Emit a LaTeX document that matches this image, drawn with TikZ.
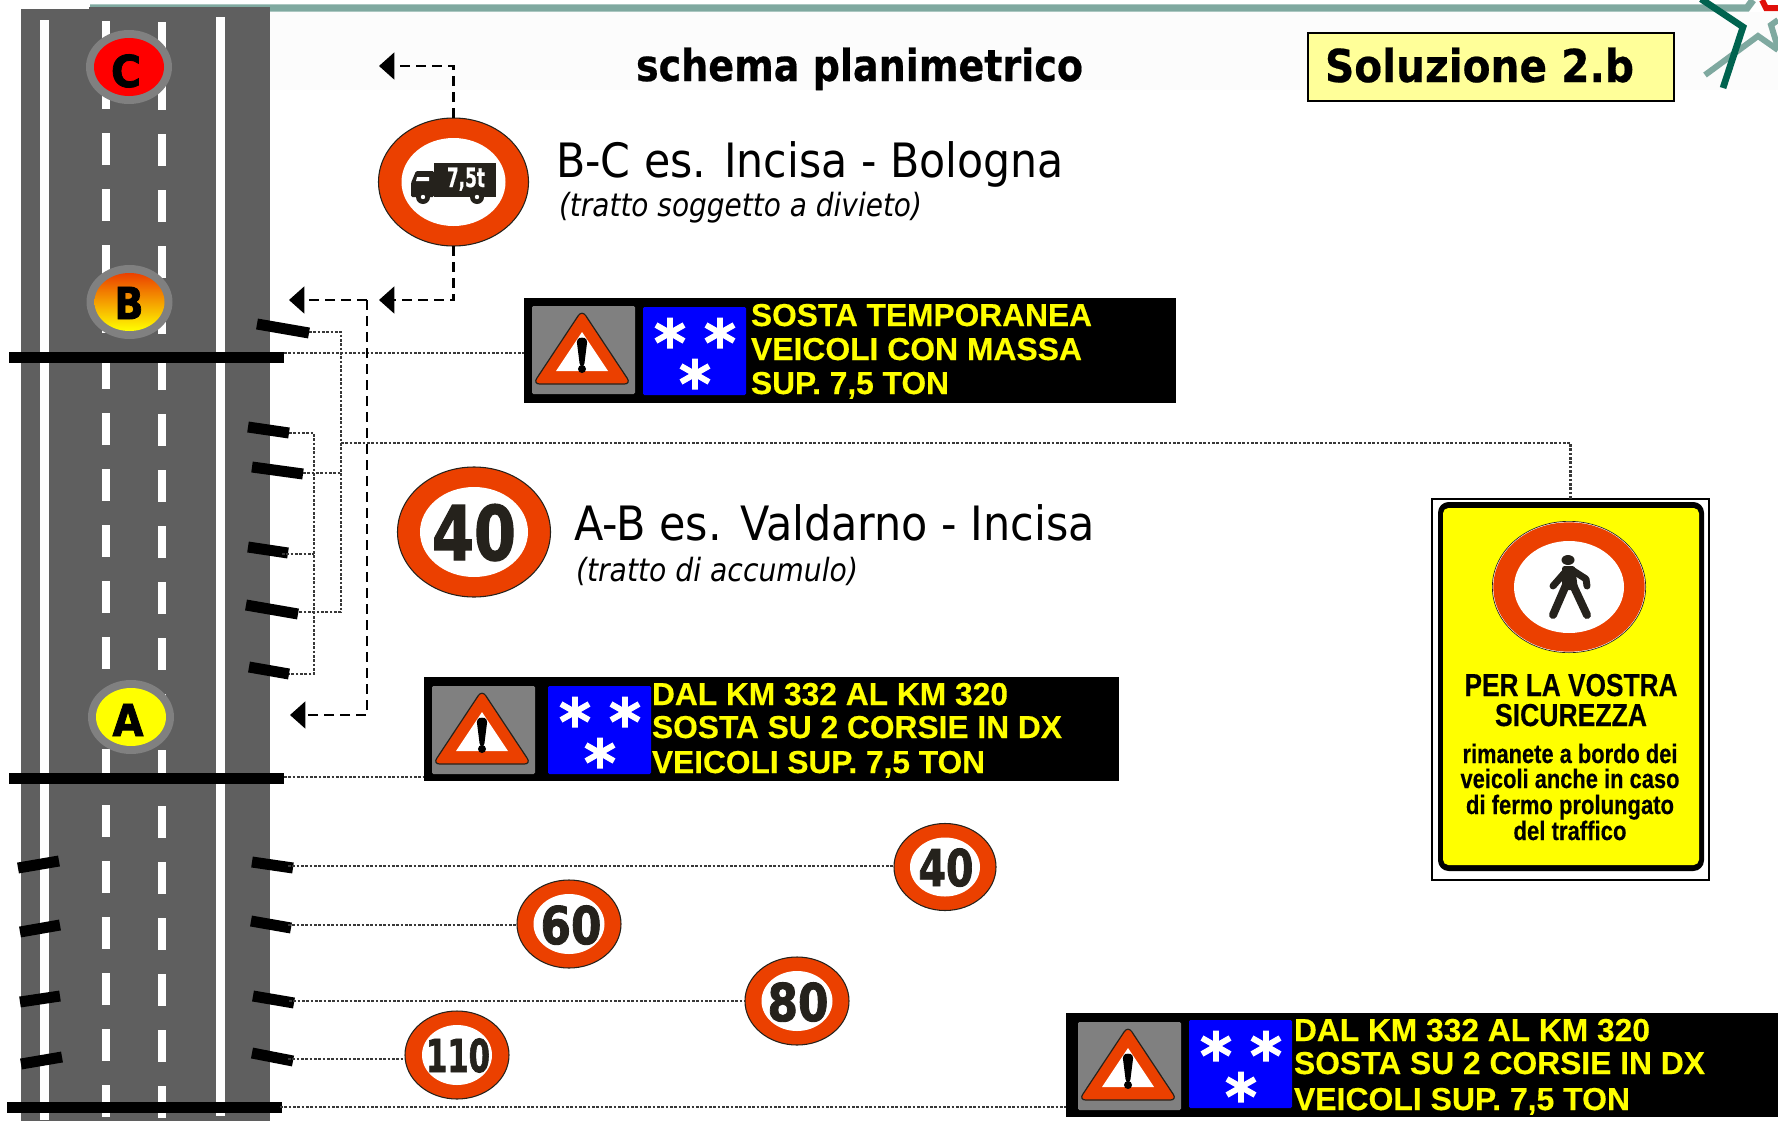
\documentclass[tikz,border=0pt]{standalone}
\usepackage{graphicx}
\usepackage{fontspec}
\setmainfont{DejaVu Sans}[BoldFeatures={FakeBold=0.5}]
\newfontfamily\signfont{Liberation Sans}[BoldFeatures={FakeBold=0.4}]
\newfontfamily\heavyfont{DejaVu Sans}[BoldFeatures={FakeBold=1.8}]
\usetikzlibrary{shapes.geometric,arrows.meta,calc}
\definecolor{roadgrey}{HTML}{5F5F5F}
\definecolor{ringgrey}{HTML}{808080}
\definecolor{signred}{HTML}{EB4000}
\definecolor{inkdark}{HTML}{25221C}
\definecolor{teal}{HTML}{7FA9A0}
\definecolor{darkgreen}{HTML}{00634F}
\definecolor{starred}{HTML}{E0100A}
\definecolor{dotgrey}{HTML}{383838}
\definecolor{solyellow}{HTML}{FFFF99}
\definecolor{pureyellow}{HTML}{FFFF00}
\definecolor{pureblue}{HTML}{0000FF}
\definecolor{purered}{HTML}{FF0000}
\newsavebox\fitbox
\newcommand{\fitt}[2]{\sbox\fitbox{#2}\pgfmathsetmacro\fitr{#1*0.75/(\wd\fitbox)}\scalebox{\fitr}[1]{\usebox\fitbox}}
\newcommand{\fsz}[1]{\fontsize{#1}{#1}\selectfont}
\newcommand{\pxbox}[6]{\node[inner sep=0pt,outer sep=0pt,minimum width={(#4-#2)*0.75pt},minimum height={(#5-#3)*0.75pt},#6] (#1) at ({(#2+#4)/2},{(#3+#5)/2}) {};}
\newcommand{\sgn}[7]{%
  \node[redel,minimum width={2*#4*0.75pt},minimum height={2*#5*0.75pt}] (#1) at (#2,#3) {};
  \node[whiteel,minimum width={2*#6*0.75pt},minimum height={2*#7*0.75pt}] (#1i) at (#2,#3) {};}
\newcommand{\tickmark}[5]{\draw[tickline] (#2,#3) -- (#4,#5) coordinate (#1);}
\newcommand{\snowflake}[2]{\begin{scope}[shift={(#1,#2)}]
  \draw[flake] (0,-15.5) -- (0,15.5) (-14,-8) -- (14,8) (-14,8) -- (14,-8);\end{scope}}
\newcommand{\vmsicons}[4]{%
 \begin{scope}[shift={(#1,#2)}]
  \fill[ringgrey,rounded corners=1pt] (0,0) rectangle (103,88);
  \path[draw=inkdark,line width=0.9pt,fill=signred,rounded corners=5pt,line join=round] (50,4) -- (99,78) -- (1,78) -- cycle;
  \fill[white] (50,26) -- (76,65) -- (24,65) -- cycle;
  \fill[black,rounded corners=2.5pt] (44.5,33) -- (50,31) -- (55.5,33) -- (52,61) -- (48,61) -- cycle;
  \fill[black] (50,63) ellipse (4 and 4);
 \end{scope}
 \fill[pureblue,rounded corners=1pt] (#3,#4) rectangle ++(103,88);
 \begin{scope}[shift={(#3,#4)}]
  \snowflake{27}{26}\snowflake{77}{26}\snowflake{52}{67}
 \end{scope}}
\tikzset{
 x=0.75pt,y=-0.75pt,
 redel/.style={ellipse,draw=inkdark,line width=0.8pt,fill=signred,inner sep=0pt,outer sep=0pt},
 whiteel/.style={ellipse,fill=white,inner sep=0pt,outer sep=0pt},
 ringel/.style={ellipse,fill=ringgrey,inner sep=0pt,outer sep=0pt,minimum width=64.5pt,minimum height=55.5pt},
 coreel/.style={ellipse,inner sep=0pt,outer sep=0pt,minimum width=52.5pt,minimum height=43.5pt},
 txt/.style={inner sep=0pt,outer sep=0pt,anchor=base west},
 ctxt/.style={inner sep=0pt,outer sep=0pt,anchor=base},
 tickline/.style={line width=8.25pt,black},
 flake/.style={line width=4.4pt,white},
 dotline/.style={line width=1.8pt,dotgrey,dash pattern=on 1.9pt off 1.35pt},
 dashline/.style={line width=2.2pt,black,dash pattern=on 7.5pt off 4.5pt,line join=miter},
 tip/.style={-{Triangle[length=11.5pt,width=20pt,fill=black]}},
}
\begin{document}
\begin{tikzpicture}
\useasboundingbox (0,0) rectangle (1778,1121);
\fill[white] (0,0) rectangle (1778,1121);
\fill[black!1] (270,12) rectangle (1778,90);
% top decoration
\draw[teal,line width=5.4pt,line join=miter] (90,8) -- (1747,8) -- (1753,0);
\draw[teal,line width=4.5pt,line join=miter] (1705,75) -- (1758,36) -- (1778,50);
\draw[teal,line width=4.5pt,line join=miter] (1778,20) -- (1771,25) -- (1778,48);
\draw[starred,line width=4.5pt,line join=miter] (1762,0) -- (1766,8) -- (1778,8);
\draw[darkgreen,line width=5pt,line join=miter] (1701,-1) -- (1743,27) -- (1723,88);
% road
\fill[roadgrey] (21,9) rectangle (89,1121);
\fill[roadgrey] (89,7) rectangle (270,1121);
\fill[white] (40,20) rectangle (49,1120);
\fill[white] (216,17) rectangle (225,1116);
\foreach \k in {-2,...,17}{
  \fill[white] (102,{133+56*\k}) rectangle (110,{165+56*\k});
  \fill[white] (158,{134+56*\k}) rectangle (166,{166+56*\k});
}
% road points
\node[ringel] (ringC) at (129,67) {};
\node[coreel,fill=purered] (coreC) at (129,67) {};
\node[ctxt] (labC) at (126,87) {\fitt{30}{\heavyfont\fsz{33}\bfseries C}};
\node[ringel] (ringB) at (129.5,302) {};
\node[coreel,top color=signred,bottom color=pureyellow] (coreB) at (129.5,302) {};
\node[ctxt] (labB) at (129,319) {\fitt{29}{\heavyfont\fsz{33}\bfseries B}};
\node[ringel] (ringA) at (131,717) {};
\node[coreel,fill=pureyellow] (coreA) at (131,717) {};
\node[ctxt] (labA) at (128,736) {\fitt{31}{\heavyfont\fsz{33}\bfseries A}};
% stop lines
\pxbox{stopB}{9}{352}{284}{363}{fill=black}
\pxbox{stopA}{9}{773}{284}{784}{fill=black}
\pxbox{stopZ}{7}{1102}{282}{1113}{fill=black}
% ticks
\tickmark{t1}{257}{324}{309}{333}
\tickmark{t2}{248}{427}{289}{433}
\tickmark{t3}{252}{467}{303}{474}
\tickmark{t4}{248}{547}{288}{553}
\tickmark{t5}{246}{605}{298}{614}
\tickmark{t6}{249}{667}{289}{674}
\tickmark{r1}{252}{862}{293}{868}
\tickmark{r2}{251}{921}{291}{928}
\tickmark{r3}{253}{996}{294}{1003}
\tickmark{r4}{252}{1053}{293}{1061}
\tickmark{l1}{18}{868}{59}{861}
\tickmark{l2}{20}{932}{60}{925}
\tickmark{l3}{20}{1002}{60}{996}
\tickmark{l4}{21}{1064}{62}{1057}
% panels
\pxbox{panelB}{524}{298}{1176}{403}{fill=black}
\pxbox{panelA}{424}{677}{1119}{781}{fill=black}
\pxbox{panelZ}{1066}{1013}{1790}{1117}{fill=black}
\vmsicons{532}{306}{643}{307}
\vmsicons{432}{686}{548}{686}
\vmsicons{1078}{1022}{1189}{1020}
\newcommand{\signline}[4]{\node[txt,pureyellow] (#1) at #2 {\fitt{#3}{\signfont\bfseries\fsz{23.8}#4}};}
\signline{pb1}{(751,326)}{341}{SOSTA TEMPORANEA}
\signline{pb2}{(751,360)}{331}{VEICOLI CON MASSA}
\signline{pb3}{(751,394)}{198}{SUP. 7,5 TON}
\signline{pa1}{(652,705)}{356}{DAL KM 332 AL KM 320}
\signline{pa2}{(652,738)}{410}{SOSTA SU 2 CORSIE IN DX}
\signline{pa3}{(652,773)}{333}{VEICOLI SUP. 7,5 TON}
\signline{pz1}{(1294,1041)}{356}{DAL KM 332 AL KM 320}
\signline{pz2}{(1294,1074)}{411}{SOSTA SU 2 CORSIE IN DX}
\signline{pz3}{(1294,1110)}{336}{VEICOLI SUP. 7,5 TON}
% round signs
\sgn{truck}{453.5}{182}{75}{64}{52}{44}
\fill[inkdark] (434,163) rectangle (496,197);
\fill[inkdark,rounded corners=1pt] (411,197) -- (411,183) -- (416,171) -- (434,171) -- (434,197) -- cycle;
\fill[white] (417,177) -- (429,177) -- (429,181) -- (416,181) -- cycle;
\fill[inkdark] (423,197) circle (7);
\fill[inkdark] (477,197) circle (7);
\fill[white] (423,197) circle (2.2);
\fill[white] (477,197) circle (2.2);
\node[ctxt,white] (truckt) at (466,187) {\fitt{38}{\bfseries\fsz{20}7,5t}};
\sgn{big40}{474}{532}{76.5}{65}{54}{45}
\node[ctxt,inkdark] (big40t) at (474,560) {\fitt{84}{\heavyfont\bfseries\fsz{56.5}40}};
\sgn{s40}{945}{867}{51}{43.5}{35}{29.5}
\node[ctxt,inkdark] (s40t) at (946,886) {\fitt{55}{\heavyfont\bfseries\fsz{38}40}};
\sgn{s60}{569}{924}{52}{44}{35.5}{30}
\node[ctxt,inkdark] (s60t) at (571,944) {\fitt{61}{\heavyfont\bfseries\fsz{39}60}};
\sgn{s80}{797}{1001}{52}{44}{35.5}{30}
\node[ctxt,inkdark] (s80t) at (798,1021) {\fitt{61}{\heavyfont\bfseries\fsz{39}80}};
\sgn{s110}{457}{1055}{52}{44}{35}{30}
\node[ctxt,inkdark] (s110t) at (458,1072) {\fitt{64}{\heavyfont\bfseries\fsz{34}110}};
% right sign
\pxbox{rsign}{1432}{499}{1709}{880}{fill=white,draw=black,line width=2.2pt}
\pxbox{rsignb}{1438}{502}{1704}{871}{fill=black,rounded corners=8pt}
\pxbox{rsigny}{1443}{508}{1699}{865}{fill=pureyellow,rounded corners=4pt}
\node[ellipse,draw=inkdark,fill=white,line width=0.5pt,inner sep=0pt,minimum width=115pt,minimum height=98.5pt] (pedo) at (1569,587) {};
\node[ellipse,fill=signred,inner sep=0pt,outer sep=0pt,minimum width=113.5pt,minimum height=97pt] (ped) at (1569,587) {};
\node[whiteel,minimum width=82.5pt,minimum height=69pt] (pedi) at (1569,587) {};
\fill[inkdark] (1568,560) ellipse (6.5 and 5);
\draw[inkdark,line width=5.2pt,line cap=round,line join=round] (1567,570) -- (1553,586);
\draw[inkdark,line width=5.2pt,line cap=round,line join=round] (1572,570) -- (1586,579) -- (1587,586);
\fill[inkdark,rounded corners=2pt] (1562,566) -- (1575,566) -- (1578,590) -- (1562,590) -- cycle;
\draw[inkdark,line width=6pt,line cap=round] (1566,585) -- (1553,615);
\draw[inkdark,line width=6pt,line cap=round] (1573,585) -- (1587,615);
\newcommand{\rline}[4]{\node[ctxt] (#1) at #2 {\fitt{#3}{\signfont\bfseries #4}};}
\rline{rs1}{(1571,696)}{213}{\fsz{23.8}PER LA VOSTRA}
\rline{rs2}{(1571,726)}{152}{\fsz{23.8}SICUREZZA}
\rline{rs3}{(1570,763)}{215}{\fsz{20}rimanete a bordo dei}
\rline{rs4}{(1570,788)}{219}{\fsz{20}veicoli anche in caso}
\rline{rs5}{(1570,814)}{208}{\fsz{20}di fermo prolungato}
\rline{rs6}{(1570,840)}{113}{\fsz{20}del traffico}
% title box
\pxbox{solbox}{1308}{33}{1674}{101}{fill=solyellow,draw=black,line width=2.2pt}
\node[txt] (solt) at (1325,82) {\fitt{309}{\bfseries\fsz{34}Soluzione 2.b}};
\node[txt] (schema) at (636,81) {\fitt{447}{\bfseries\fsz{33}schema planimetrico}};
\node[txt] (bc) at (556,177) {\fitt{508}{\fsz{35.5}B-C es. Incisa - Bologna}};
\node[txt] (bcs) at (559,216) {\fitt{363}{\itshape\fsz{24}(tratto soggetto a divieto)}};
\node[txt] (ab) at (574,540) {\fitt{521}{\fsz{35.5}A-B es. Valdarno - Incisa}};
\node[txt] (abs) at (576,581) {\fitt{282}{\itshape\fsz{24}(tratto di accumulo)}};
% dotted connectors
\coordinate (dB) at (284,353);
\coordinate (dA) at (284,777);
\coordinate (dZ) at (280,1107);
\coordinate (c1) at (341,612);
\coordinate (c2) at (314,674);
\coordinate (e1) at (309,332);
\coordinate (e2) at (289,433);
\coordinate (e3) at (303,473);
\coordinate (e4) at (282,554);
\coordinate (e5) at (298,612);
\coordinate (e6) at (289,674);
\coordinate (jr) at (341,443);
\draw[dotline] (dB) -- (dB -| panelB.west);
\draw[dotline] (dA) -- (dA -| panelA.west);
\draw[dotline] (dZ) -- (dZ -| panelZ.west);
\draw[dotline] (e1) -| (c1) -- (e5);
\draw[dotline] (e3) -- (e3 -| c1);
\draw[dotline] (e2) -| (c2) -- (e6);
\draw[dotline] (e4) -- (e4 -| c2);
\draw[dotline] (jr) -| (rsign.north);
\coordinate (g1) at (288,866);
\coordinate (g2) at (288,925);
\coordinate (g3) at (289,1001);
\coordinate (g4) at (288,1059);
\draw[dotline] (g1) -- (g1 -| s40.west);
\draw[dotline] (g2) -- (g2 -| s60.west);
\draw[dotline] (g3) -- (g3 -| s80.west);
\draw[dotline] (g4) -- (g4 -| s110.west);
% dashed connectors
\coordinate (tipC) at (379,66);
\coordinate (tipB) at (379,300);
\coordinate (tipB2) at (289,300);
\coordinate (tipA) at (290,715);
\coordinate (jd) at (367,300);
\draw[dashline,tip] (truck.north) |- (tipC);
\draw[dashline,tip] (truck.south) |- (tipB);
\draw[dashline,tip] (jd) -- (tipB2);
\draw[dashline,tip] (jd) |- (tipA);
\end{tikzpicture}
\end{document}
